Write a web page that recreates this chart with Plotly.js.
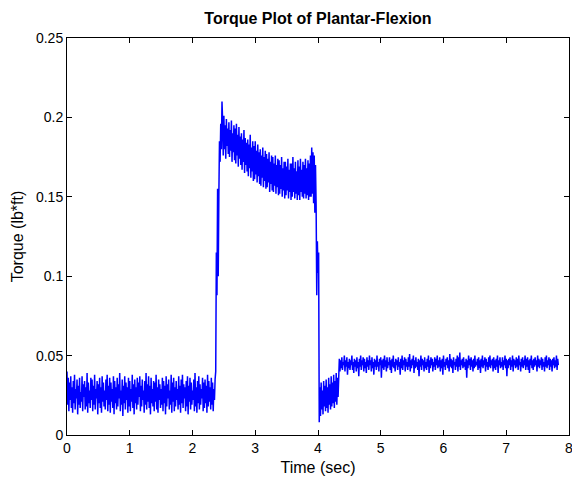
<!DOCTYPE html>
<html>
<head>
<meta charset="utf-8">
<script src="https://cdn.plot.ly/plotly-3.0.1.min.js"></script>
<style>html,body{margin:0;padding:0;background:#fff;}#chart{width:572px;height:480px;}</style>
</head>
<body>
<div id="chart"></div>
<script>
// Sampling interval (sec) of the recorded torque signal
var sampleInterval = 0.01;

// Segment start times (sec)
var baselineStart = 0.00;
var riseStart = 2.37;
var plateauStart = 2.48;
var dropStart = 3.90;
var lowStart = 4.03;
var steadyStart = 4.33;

// Torque (lb*ft) readings
var baselineTorque = [
0.040,0.019,0.036,0.015,0.033,0.022,0.037,0.017,0.030,0.014,
0.034,0.020,0.038,0.016,0.029,0.023,0.035,0.013,0.031,0.019,
0.036,0.017,0.027,0.021,0.037,0.015,0.032,0.024,0.034,0.016,
0.030,0.018,0.039,0.014,0.033,0.020,0.028,0.017,0.036,0.022,
0.035,0.015,0.031,0.019,0.038,0.016,0.029,0.023,0.034,0.013,
0.032,0.020,0.036,0.017,0.030,0.014,0.037,0.021,0.033,0.018,
0.028,0.016,0.035,0.022,0.038,0.015,0.031,0.019,0.036,0.014,
0.033,0.021,0.029,0.017,0.037,0.013,0.034,0.020,0.030,0.016,
0.036,0.018,0.032,0.023,0.039,0.015,0.028,0.019,0.035,0.012,
0.031,0.020,0.037,0.016,0.033,0.022,0.030,0.014,0.036,0.018,
0.034,0.015,0.029,0.021,0.038,0.017,0.032,0.013,0.035,0.020,
0.030,0.016,0.036,0.019,0.033,0.024,0.037,0.015,0.031,0.018,
0.035,0.022,0.028,0.014,0.034,0.019,0.039,0.016,0.032,0.021,
0.037,0.017,0.031,0.013,0.036,0.020,0.029,0.018,0.034,0.015,
0.033,0.021,0.038,0.016,0.030,0.014,0.035,0.022,0.032,0.017,
0.029,0.019,0.036,0.015,0.034,0.020,0.031,0.013,0.037,0.018,
0.032,0.023,0.035,0.016,0.028,0.019,0.038,0.014,0.033,0.021,
0.036,0.015,0.030,0.018,0.034,0.022,0.029,0.016,0.037,0.019,
0.031,0.014,0.035,0.020,0.038,0.017,0.032,0.023,0.030,0.015,
0.034,0.018,0.037,0.013,0.031,0.021,0.036,0.016,0.033,0.019,
0.028,0.022,0.035,0.015,0.039,0.018,0.030,0.014,0.034,0.020,
0.037,0.016,0.032,0.019,0.029,0.023,0.036,0.015,0.033,0.017,
0.035,0.020,0.031,0.014,0.038,0.018,0.034,0.021,0.030,0.016,
0.036,0.019,0.033,0.015,0.029,0.022,0.035
];
var riseTorque = [0.040,0.115,0.088,0.155,0.100,0.150,0.185,0.172,0.196,0.180,0.210];
var plateauTorque = [
0.198,0.176,0.201,0.180,0.195,0.174,0.199,0.182,0.193,0.177,
0.197,0.175,0.192,0.179,0.198,0.172,0.190,0.178,0.195,0.173,
0.193,0.171,0.196,0.176,0.189,0.169,0.194,0.174,0.188,0.170,
0.190,0.167,0.186,0.172,0.192,0.165,0.187,0.170,0.184,0.166,
0.186,0.163,0.183,0.168,0.189,0.162,0.181,0.166,0.185,0.160,
0.182,0.161,0.185,0.164,0.179,0.159,0.183,0.163,0.178,0.158,
0.180,0.157,0.176,0.162,0.181,0.156,0.175,0.160,0.179,0.155,
0.177,0.156,0.174,0.159,0.178,0.153,0.172,0.158,0.176,0.154,
0.175,0.153,0.171,0.157,0.176,0.152,0.170,0.156,0.174,0.151,
0.173,0.152,0.170,0.155,0.175,0.150,0.168,0.154,0.172,0.149,
0.172,0.151,0.169,0.154,0.174,0.149,0.167,0.153,0.171,0.148,
0.171,0.150,0.175,0.153,0.168,0.149,0.172,0.152,0.166,0.148,
0.173,0.151,0.169,0.148,0.174,0.153,0.167,0.150,0.172,0.149,
0.170,0.152,0.174,0.149,0.168,0.151,0.173,0.148,0.171,0.150,
0.176,0.150
];
var dropTorque = [0.181,0.152,0.178,0.146,0.176,0.140,0.170,0.145,0.088,0.122,0.102,0.115,0.008];
var lowTorque = [
0.030,0.012,0.033,0.016,0.028,0.013,0.034,0.018,0.031,0.015,
0.035,0.017,0.030,0.014,0.036,0.019,0.032,0.016,0.037,0.018,
0.033,0.020,0.038,0.017,0.034,0.021,0.039,0.019,0.036,0.024
];
var steadyTorque = [
0.043,0.048,0.040,0.047,0.042,0.049,0.041,0.046,0.044,0.050,
0.040,0.047,0.043,0.049,0.038,0.046,0.042,0.048,0.041,0.047,
0.044,0.050,0.041,0.046,0.039,0.048,0.043,0.047,0.040,0.049,
0.042,0.046,0.037,0.048,0.043,0.050,0.041,0.047,0.044,0.049,
0.040,0.048,0.042,0.046,0.039,0.049,0.043,0.047,0.041,0.050,
0.044,0.047,0.040,0.049,0.042,0.046,0.038,0.048,0.043,0.047,
0.041,0.050,0.043,0.046,0.040,0.048,0.044,0.049,0.036,0.047,
0.042,0.048,0.041,0.050,0.043,0.047,0.040,0.049,0.042,0.046,
0.044,0.049,0.041,0.047,0.039,0.048,0.043,0.050,0.042,0.046,
0.040,0.048,0.044,0.047,0.041,0.049,0.043,0.046,0.038,0.048,
0.042,0.050,0.041,0.047,0.044,0.049,0.040,0.048,0.043,0.046,
0.041,0.049,0.043,0.051,0.040,0.047,0.042,0.048,0.044,0.050,
0.039,0.047,0.042,0.049,0.043,0.046,0.041,0.048,0.037,0.047,
0.043,0.050,0.041,0.048,0.044,0.047,0.040,0.049,0.042,0.046,
0.041,0.048,0.043,0.050,0.039,0.047,0.042,0.049,0.044,0.048,
0.040,0.046,0.043,0.049,0.041,0.048,0.044,0.050,0.042,0.047,
0.043,0.049,0.040,0.047,0.042,0.048,0.038,0.050,0.043,0.046,
0.041,0.048,0.044,0.049,0.042,0.047,0.040,0.051,0.043,0.048,
0.042,0.047,0.039,0.049,0.044,0.046,0.041,0.048,0.043,0.050,
0.040,0.049,0.043,0.052,0.041,0.047,0.044,0.048,0.042,0.049,
0.043,0.046,0.041,0.048,0.036,0.047,0.042,0.050,0.044,0.048,
0.041,0.049,0.043,0.047,0.040,0.048,0.042,0.050,0.043,0.046,
0.044,0.048,0.041,0.049,0.042,0.047,0.039,0.048,0.043,0.050,
0.042,0.047,0.044,0.049,0.040,0.048,0.043,0.046,0.041,0.049,
0.043,0.050,0.042,0.047,0.044,0.048,0.040,0.049,0.042,0.047,
0.041,0.048,0.043,0.050,0.039,0.047,0.044,0.049,0.042,0.046,
0.043,0.049,0.041,0.047,0.044,0.050,0.042,0.048,0.037,0.047,
0.042,0.048,0.044,0.049,0.041,0.047,0.043,0.050,0.040,0.048,
0.044,0.047,0.042,0.049,0.043,0.048,0.041,0.050,0.044,0.046,
0.040,0.048,0.043,0.049,0.042,0.047,0.044,0.050,0.041,0.048,
0.043,0.049,0.041,0.047,0.039,0.048,0.044,0.050,0.042,0.047,
0.041,0.048,0.043,0.049,0.044,0.047,0.040,0.050,0.043,0.048,
0.042,0.047,0.044,0.049,0.041,0.048,0.043,0.046,0.040,0.049,
0.043,0.050,0.042,0.047,0.044,0.049,0.041,0.048,0.043,0.047,
0.040,0.048,0.044,0.049,0.042,0.047,0.043,0.050,0.041,0.048,
0.044
];

var xTickVals = [0,1,2,3,4,5,6,7,8];
var yTickVals = [0,0.05,0.1,0.15,0.2,0.25];

var segments = [
  [baselineStart, baselineTorque],
  [riseStart, riseTorque],
  [plateauStart, plateauTorque],
  [dropStart, dropTorque],
  [lowStart, lowTorque],
  [steadyStart, steadyTorque]
];
var timeSec = [], torque = [];
segments.forEach(function(s){
  s[1].forEach(function(v, i){
    timeSec.push(+(s[0] + i*sampleInterval).toFixed(3));
    torque.push(v);
  });
});

var font = "'Liberation Sans', Arial, Helvetica, sans-serif";
var trace = {
  x: timeSec, y: torque, type: 'scatter', mode: 'lines',
  line: {color: '#0000ff', width: 1.5}, hoverinfo: 'none'
};
var axisCommon = {
  showline: true, linecolor: '#000', linewidth: 1, mirror: 'ticks',
  ticks: 'inside', ticklen: 5, tickcolor: '#000', tickwidth: 1,
  showgrid: false, zeroline: false, automargin: false,
  ticklabeloverflow: 'allow',
  tickfont: {family: font, size: 14, color: '#000'}
};
var layout = {
  width: 572, height: 480,
  margin: {l: 67, r: 3, t: 38, b: 45},
  paper_bgcolor: '#fff', plot_bgcolor: '#fff',
  showlegend: false,
  title: {text: '<b>Torque Plot of Plantar-Flexion</b>', font: {family: font, size: 16, color: '#000'},
          x: 0.5, xref: 'paper', y: 1 - 18/480, yref: 'container', yanchor: 'middle'},
  xaxis: Object.assign({}, axisCommon, {
    range: [0, 8], tickvals: xTickVals,
    title: {text: 'Time (sec)', font: {family: font, size: 16, color: '#000'}, standoff: 7}
  }),
  yaxis: Object.assign({}, axisCommon, {
    range: [0, 0.25], tickvals: yTickVals,
    title: {text: 'Torque (lb*ft)', font: {family: font, size: 16, color: '#000'}, standoff: 8}
  })
};
Plotly.newPlot('chart', [trace], layout, {staticPlot: true, displayModeBar: false});
</script>
</body>
</html>
